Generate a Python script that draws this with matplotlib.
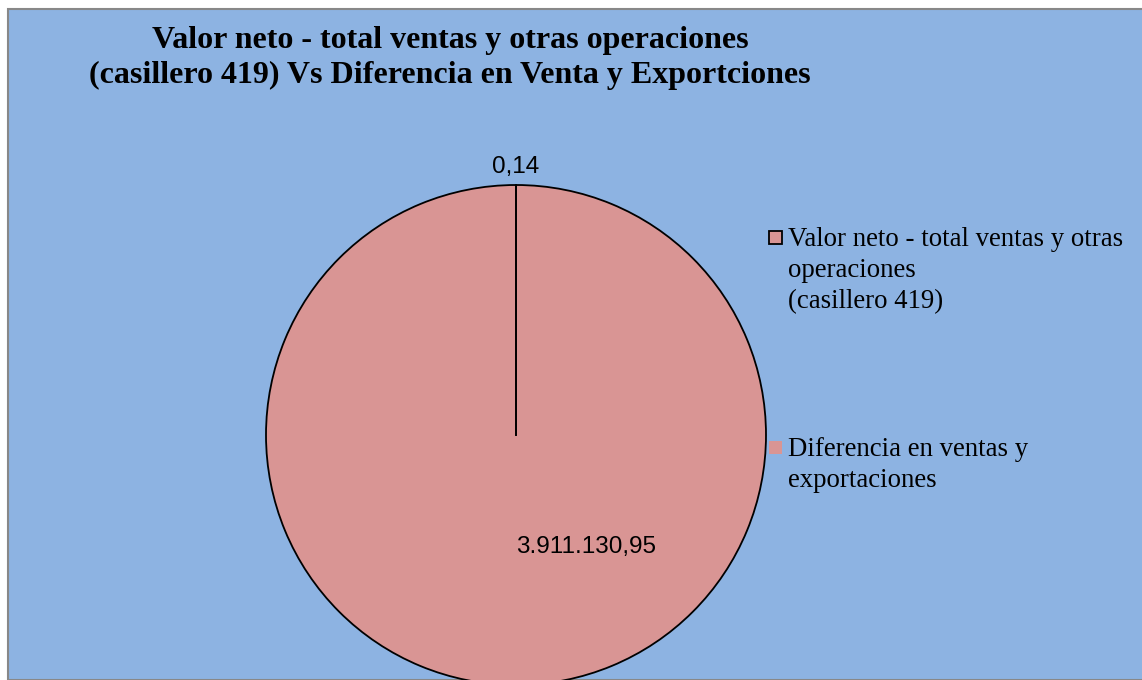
import matplotlib
matplotlib.use("Agg")
import numpy as np
import matplotlib.pyplot as plt
from matplotlib.patches import Rectangle

# Data
labels = ["Valor neto - total ventas y otras\noperaciones\n(casillero 419)",
          "Diferencia en ventas y\nexportaciones"]
values = [0.14, 3911130.95]
title = ("Valor neto - total ventas y otras operaciones\n"
         "(casillero 419) Vs Diferencia en Venta y Exportciones")

bg = "#8DB3E2"
slice_color = "#D99594"

W, H = 1142, 680


def fmt_es(v):
    s = "{:,.2f}".format(v)
    return s.replace(",", "X").replace(".", ",").replace("X", ".")


fig = plt.figure(figsize=(W / 100, H / 100), dpi=100)
fig.patch.set_facecolor("white")

# chart area
fig.patches.append(Rectangle((8 / W, 0), 1, 1 - 9 / H, transform=fig.transFigure,
                             facecolor=bg, edgecolor="#888888", linewidth=1.5,
                             zorder=-10))

# pie, centre (516, 435) px, radius 250 px
cx, cy, r = 516, 435, 250
ax = fig.add_axes([(cx - r) / W, (H - cy - r) / H, 2 * r / W, 2 * r / H])
start = 90
ax.pie(values, colors=[slice_color, slice_color], startangle=start, counterclock=False,
       radius=1, wedgeprops=dict(edgecolor="black", linewidth=1.3))
# slice borders (tiny slice makes them overlap, draw explicitly)
frac = np.cumsum(values) / np.sum(values)
for a in np.deg2rad(start - 360 * np.concatenate([[0], frac[:-1]])):
    ax.plot([0, np.cos(a)], [0, np.sin(a)], color="black", lw=1.3)
ax.set_xlim(-1, 1)
ax.set_ylim(-1, 1)
ax.set_aspect("equal")
ax.axis("off")

lab_font = dict(family=["Liberation Sans", "DejaVu Sans"], fontsize=17.5)
ax.text(0, 1.07, fmt_es(values[0]), ha="center", va="center", **lab_font)
ax.text(0.28, -0.45, fmt_es(values[1]), ha="center", va="center", **lab_font)

# title
fig.text(450 / W, 1 - 58 / H, title, ha="center", va="center", fontsize=23,
         fontweight="bold", family="Liberation Serif", linespacing=1.3)

# legend
leg_y = [237, 447]
edges = ["black", "none"]
for lab, y, ec in zip(labels, leg_y, edges):
    fig.patches.append(Rectangle((769 / W, 1 - (y + 7) / H), 13 / W, 13 / H,
                                 transform=fig.transFigure, facecolor=slice_color,
                                 edgecolor=ec, linewidth=1.3))
    fig.text(788 / W, 1 - (y - 10) / H, lab, ha="left", va="top", fontsize=19.3,
             family="Liberation Serif", linespacing=1.33)

fig.savefig("out.png", dpi=100)
